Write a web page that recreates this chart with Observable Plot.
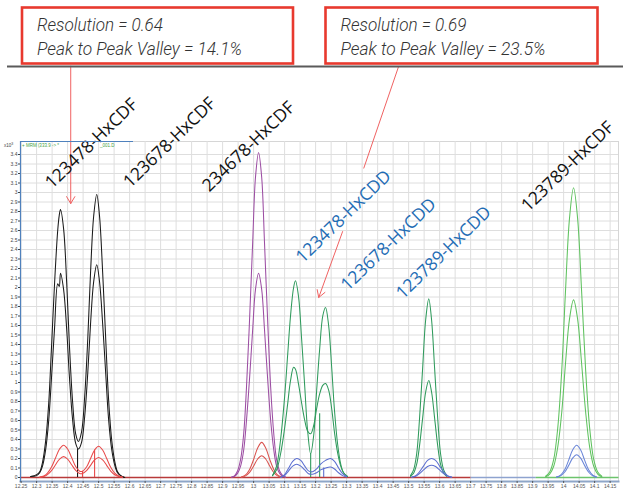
<!DOCTYPE html>
<html><head><meta charset="utf-8">
<script src="https://cdn.jsdelivr.net/npm/d3@7"></script>
<script src="https://cdn.jsdelivr.net/npm/@observablehq/plot@0.6"></script>
<style>
body{margin:0;background:#fff;}
#wrap{position:relative;width:623px;height:488px;overflow:hidden;font-family:"Open Sans",sans-serif;}
#wrap > svg{position:absolute;left:0;top:0;}
</style></head><body><div id="wrap"></div>
<script>
// ---------- axis ticks ----------
const xTicks = [12.25,12.3,12.35,12.4,12.45,12.5,12.55,12.6,12.65,12.7,12.75,12.8,12.85,12.9,12.95,13,13.05,13.1,13.15,13.2,13.25,13.3,13.35,13.4,13.45,13.5,13.55,13.6,13.65,13.7,13.75,13.8,13.85,13.9,13.95,14,14.05,14.1,14.15];
const yTicks = [0,0.1,0.2,0.3,0.4,0.5,0.6,0.7,0.8,0.9,1,1.1,1.2,1.3,1.4,1.5,1.6,1.7,1.8,1.9,2,2.1,2.2,2.3,2.4,2.5,2.6,2.7,2.8,2.9,3,3.1,3.2,3.3,3.4];

// ---------- traces (acquisition time, min ; abundance x10^3) ----------
// 123478-HxCDF / 123678-HxCDF (black, two ion traces)
const tBlack = [12.281,12.300,12.310,12.319,12.329,12.339,12.348,12.358,12.368,12.373,12.377,12.387,12.397,12.406,12.416,12.426,12.435,12.445,12.455,12.465,12.474,12.484,12.494,12.503,12.513,12.523,12.532,12.542,12.552,12.561,12.571,12.584];
const vBlack1 = [0.01,0.03,0.06,0.16,0.38,0.78,1.37,2.05,2.6,2.76,2.82,2.62,2.05,1.38,0.8,0.46,0.38,0.48,0.85,1.46,2.16,2.75,2.98,2.75,2.16,1.45,0.83,0.4,0.17,0.06,0.02,0];
const vBlack2 = [0.01,0.02,0.05,0.12,0.29,0.6,1.05,1.58,2.04,2.01,2.15,1.98,1.56,1.05,0.61,0.36,0.3,0.37,0.64,1.1,1.62,2.06,2.24,2.06,1.62,1.09,0.62,0.3,0.13,0.05,0.02,0];
// labelled standards under the black peaks (red)
const tRedA = [12.310,12.323,12.335,12.348,12.361,12.374,12.387,12.400,12.413,12.426,12.439,12.448,12.461,12.474,12.487,12.500,12.513,12.526,12.539,12.552,12.565,12.577];
const vRedA1 = [0.004,0.015,0.046,0.11,0.206,0.30,0.34,0.30,0.21,0.115,0.066,0.065,0.11,0.20,0.29,0.33,0.29,0.20,0.107,0.045,0.015,0.004];
const vRedA2 = [0.003,0.01,0.03,0.072,0.134,0.194,0.22,0.194,0.134,0.075,0.043,0.042,0.072,0.128,0.185,0.21,0.185,0.128,0.068,0.029,0.01,0.003];
// 234678-HxCDF (purple)
const tPurple = [12.929,12.939,12.948,12.958,12.968,12.977,12.987,12.997,13.006,13.016,13.026,13.035,13.045,13.055,13.065,13.074,13.084,13.094,13.103];
const vPurple1 = [0.005,0.02,0.068,0.19,0.46,0.95,1.67,2.48,3.16,3.42,3.16,2.48,1.67,0.95,0.46,0.19,0.068,0.02,0.005];
const vPurple2 = [0.003,0.013,0.043,0.12,0.29,0.6,1.05,1.56,1.98,2.15,1.98,1.56,1.05,0.6,0.29,0.12,0.043,0.013,0.003];
const tRedB = [12.961,12.974,12.987,13.000,13.013,13.026,13.039,13.052,13.065,13.077,13.090];
const vRedB1 = [0.006,0.027,0.085,0.19,0.31,0.37,0.31,0.19,0.085,0.027,0.006];
const vRedB2 = [0.004,0.017,0.053,0.12,0.195,0.23,0.195,0.12,0.053,0.017,0.004];
// 123478-HxCDD / 123678-HxCDD (dark green)
const tGreen = [13.061,13.074,13.087,13.100,13.110,13.119,13.129,13.135,13.145,13.155,13.165,13.174,13.184,13.194,13.203,13.213,13.223,13.232,13.242,13.252,13.261,13.271,13.281,13.290,13.303];
const vGreen1 = [0.02,0.12,0.4,0.85,1.3,1.7,2.0,2.07,1.9,1.45,0.95,0.5,0.25,0.45,0.9,1.35,1.7,1.79,1.6,1.15,0.7,0.35,0.14,0.05,0.01];
const vGreen2 = [0.02,0.08,0.25,0.52,0.78,1.02,1.16,1.14,0.98,0.78,0.6,0.49,0.46,0.55,0.72,0.88,0.97,0.99,0.92,0.72,0.47,0.26,0.12,0.05,0.01];
const tBlueA = [13.087,13.100,13.113,13.126,13.139,13.152,13.165,13.177,13.190,13.203,13.216,13.232,13.248,13.261,13.274,13.287,13.300];
const vBlueA1 = [0,0.03,0.1,0.17,0.2,0.18,0.12,0.07,0.06,0.09,0.14,0.18,0.2,0.17,0.1,0.04,0.01];
const vBlueA2 = [0,0.02,0.07,0.12,0.14,0.12,0.08,0.04,0.035,0.05,0.08,0.1,0.11,0.09,0.05,0.02,0.005];
// 123789-HxCDD (dark green)
const tGreenC = [13.506,13.516,13.526,13.535,13.545,13.555,13.565,13.574,13.584,13.594,13.603,13.613,13.623];
const vGreenC1 = [0.02,0.08,0.25,0.61,1.14,1.66,1.88,1.66,1.14,0.61,0.25,0.08,0.02];
const vGreenC2 = [0.011,0.045,0.14,0.33,0.62,0.9,1.02,0.9,0.62,0.33,0.14,0.045,0.011];
const tBlueC = [13.510,13.523,13.535,13.548,13.561,13.574,13.587,13.600,13.613,13.626,13.639];
const vBlueC1 = [0.004,0.02,0.06,0.12,0.18,0.2,0.18,0.12,0.06,0.02,0.004];
const vBlueC2 = [0.003,0.013,0.04,0.08,0.115,0.13,0.115,0.08,0.04,0.013,0.003];
// 123789-HxCDF (light green)
const tLight = [13.942,13.955,13.968,13.981,13.994,14.006,14.019,14.032,14.045,14.058,14.071,14.084,14.097,14.110,14.123];
const vLight1 = [0.013,0.058,0.19,0.52,1.13,1.96,2.73,3.05,2.73,1.96,1.13,0.52,0.19,0.058,0.013];
const vLight2 = [0.008,0.036,0.118,0.32,0.69,1.2,1.67,1.87,1.67,1.2,0.69,0.32,0.118,0.036,0.008];
const tBlueD = [13.977,13.990,14.003,14.016,14.029,14.042,14.055,14.068,14.081,14.094,14.106];
const vBlueD1 = [0.006,0.025,0.078,0.18,0.29,0.34,0.29,0.18,0.078,0.025,0.006];
const vBlueD2 = [0.004,0.018,0.055,0.125,0.204,0.24,0.204,0.125,0.055,0.018,0.004];

// baselines and integration drop lines
const baseStart = [12.248, 13.700, 13.910];
const baseEnd   = [13.700, 13.910, 14.177];
const baseColor = ["#b83a3a", "#8ea3cf", "#6cc46c"];
const dropT   = [12.432, 12.448, 12.487, 13.184, 13.213, 13.226];
const dropTop = [0.30, 0.065, 0.29, 0.25, 0.67, 0.10];
const dropColor = ["#1a1a1a", "#e84a4a", "#e84a4a", "#2f9a5c", "#2f9a5c", "#6070d0"];

// compound labels
const labelText = ["123478-HxCDF","123678-HxCDF","234678-HxCDF","123478-HxCDD","123678-HxCDD","123789-HxCDD","123789-HxCDF"];
const labelT = [12.477, 12.729, 12.984, 13.290, 13.435, 13.613, 14.013];
const labelV = [3.516, 3.526, 3.484, 2.747, 2.453, 2.368, 3.274];
const labelColor = ["#111","#111","#111","#1f6db5","#1f6db5","#1f6db5","#111"];

// callout texts and pointer lines
const box1Lines = ["Resolution = 0.64", "Peak to Peak Valley = 14.1%"];
const box2Lines = ["Resolution = 0.69", "Peak to Peak Valley = 23.5%"];
const boxLineWidths = [126, 205];
const pointerArrows = [
  {x1:12.410, y1:4.33, x2:12.410, y2:2.884},
  {x1:13.287, y1:2.589, x2:13.210, y2:1.895}
];
const pointerLines = [
  {x1:13.468, y1:4.33, x2:13.355, y2:3.253}
];

// ---------- build ----------
const traces = [
  {t:tBlack, v:vBlack1, c:"#1a1a1a"}, {t:tBlack, v:vBlack2, c:"#1a1a1a"},
  {t:tRedA, v:vRedA1, c:"#e84a4a"}, {t:tRedA, v:vRedA2, c:"#e84a4a"},
  {t:tPurple, v:vPurple1, c:"#9c4ea3"}, {t:tPurple, v:vPurple2, c:"#9c4ea3"},
  {t:tRedB, v:vRedB1, c:"#d9534f"}, {t:tRedB, v:vRedB2, c:"#d9534f"},
  {t:tGreen, v:vGreen1, c:"#2f9a5c"}, {t:tGreen, v:vGreen2, c:"#2f9a5c"},
  {t:tBlueA, v:vBlueA1, c:"#5c6fd0"}, {t:tBlueA, v:vBlueA2, c:"#5c6fd0"},
  {t:tGreenC, v:vGreenC1, c:"#2f9a5c"}, {t:tGreenC, v:vGreenC2, c:"#2f9a5c"},
  {t:tBlueC, v:vBlueC1, c:"#5c6fd0"}, {t:tBlueC, v:vBlueC2, c:"#5c6fd0"},
  {t:tLight, v:vLight1, c:"#5fc25f"}, {t:tLight, v:vLight2, c:"#5fc25f"},
  {t:tBlueD, v:vBlueD1, c:"#6a86d8"}, {t:tBlueD, v:vBlueD2, c:"#6a86d8"}
];
const traceMarks = traces.map(tr => Plot.line(tr.t.map((t,i)=>({t, v: tr.v[i]})), {x:"t", y:"v", stroke: tr.c, strokeWidth: 1.05, curve: "catmull-rom"}));
const baselines = baseStart.map((s,i)=>({s, e: baseEnd[i], c: baseColor[i]}));
const drops = dropT.map((t,i)=>({t, top: dropTop[i], c: dropColor[i]}));
const labels = labelText.map((s,i)=>({s, t: labelT[i], v: labelV[i], c: labelColor[i]}));

const chart = Plot.plot({
  width: 623, height: 488,
  marginLeft: 20, marginRight: 5, marginTop: 141, marginBottom: 7,
  x: {domain: [12.248, 14.177]},
  y: {domain: [0, 3.4], range: [477, 154]},
  color: {type: "identity"},
  style: {background: "transparent", fontFamily: "Liberation Sans, Arial, sans-serif"},
  marks: [
    Plot.frame({stroke: "#d6d6d6"}),
    Plot.gridX(xTicks, {stroke: "#dedede", strokeOpacity: 1}),
    Plot.gridY(yTicks, {stroke: "#dedede", strokeOpacity: 1}),
    Plot.link(baselines, {x1: "s", x2: "e", y1: 0, y2: 0, stroke: "c", strokeWidth: 1.3}),
    Plot.ruleX(drops, {x: "t", y1: 0, y2: "top", stroke: "c", strokeWidth: 1.1}),
    ...traceMarks,
    Plot.frame({anchor: "bottom", stroke: "#8ea6c8", strokeWidth: 2}),
    Plot.frame({anchor: "left", stroke: "#4f81bd", strokeWidth: 1.2}),
    Plot.axisX(xTicks, {tickSize: 2, tickPadding: 0.5, fontSize: 5, color: "#555", tickFormat: d => String(d), label: null}),
    Plot.axisY(yTicks, {tickSize: 2, tickPadding: 1, fontSize: 5, color: "#444", tickFormat: d => String(d), label: null}),
    Plot.link(pointerLines, {x1:"x1", y1:"y1", x2:"x2", y2:"y2", stroke: "#f06262", strokeWidth: 1}),
    Plot.arrow(pointerArrows, {x1:"x1", y1:"y1", x2:"x2", y2:"y2", stroke: "#f06262", strokeWidth: 1, headLength: 12, headAngle: 62}),
    Plot.text(labels, {x: "t", y: "v", text: "s", rotate: -44, fontSize: 17.5, fill: "c", fontFamily: "Open Sans", textAnchor: "middle"})
  ]
});
const wrap = document.getElementById("wrap");
wrap.appendChild(chart);

// ---------- callout boxes & header decoration (annotation layer) ----------
const svg = d3.select(wrap).append("svg").attr("width", 623).attr("height", 488).style("pointer-events","none");
svg.append("line").attr("x1", 7).attr("x2", 623).attr("y1", 66.5).attr("y2", 66.5).attr("stroke", "#5a5a5a").attr("stroke-width", 2.2);
function box(x, y, w, h, lines) {
  svg.append("rect").attr("x", x).attr("y", y).attr("width", w).attr("height", h)
    .attr("fill", "#fff").attr("stroke", "#e8392e").attr("stroke-width", 2.6);
  lines.forEach((s, i) => {
    svg.append("text").attr("x", x + 15).attr("y", y + 23.5 + i * 24).text(s)
      .attr("textLength", boxLineWidths[i]).attr("lengthAdjust", "spacingAndGlyphs")
      .attr("font-family", "Roboto, 'Liberation Sans', sans-serif")
      .attr("font-weight", 300)
      .attr("font-style", "italic").attr("font-size", 18.5).attr("fill", "#333");
  });
}
box(22, 7.5, 271, 56, box1Lines);
box(325.5, 7.5, 272, 56, box2Lines);
// chart header bar
svg.append("line").attr("x1", 20).attr("x2", 133).attr("y1", 141.5).attr("y2", 141.5).attr("stroke", "#4f81bd").attr("stroke-width", 1.2);
svg.append("text").attr("x", 22).attr("y", 147).text("+ MRM (333.9 -> *").attr("font-size", 4.5).attr("fill", "#3f9f3f").attr("font-family", "Liberation Sans, sans-serif");
svg.append("text").attr("x", 100).attr("y", 147).text("_001.D").attr("font-size", 4.5).attr("fill", "#3f9f3f").attr("font-family", "Liberation Sans, sans-serif");
const xl = svg.append("text").attr("x", 4).attr("y", 147).attr("font-size", 4.5).attr("fill", "#444").attr("font-family", "Liberation Sans, sans-serif");
xl.append("tspan").text("x10");
xl.append("tspan").attr("dy", -2).attr("font-size", 3.5).text("3");
</script>
</body></html>
